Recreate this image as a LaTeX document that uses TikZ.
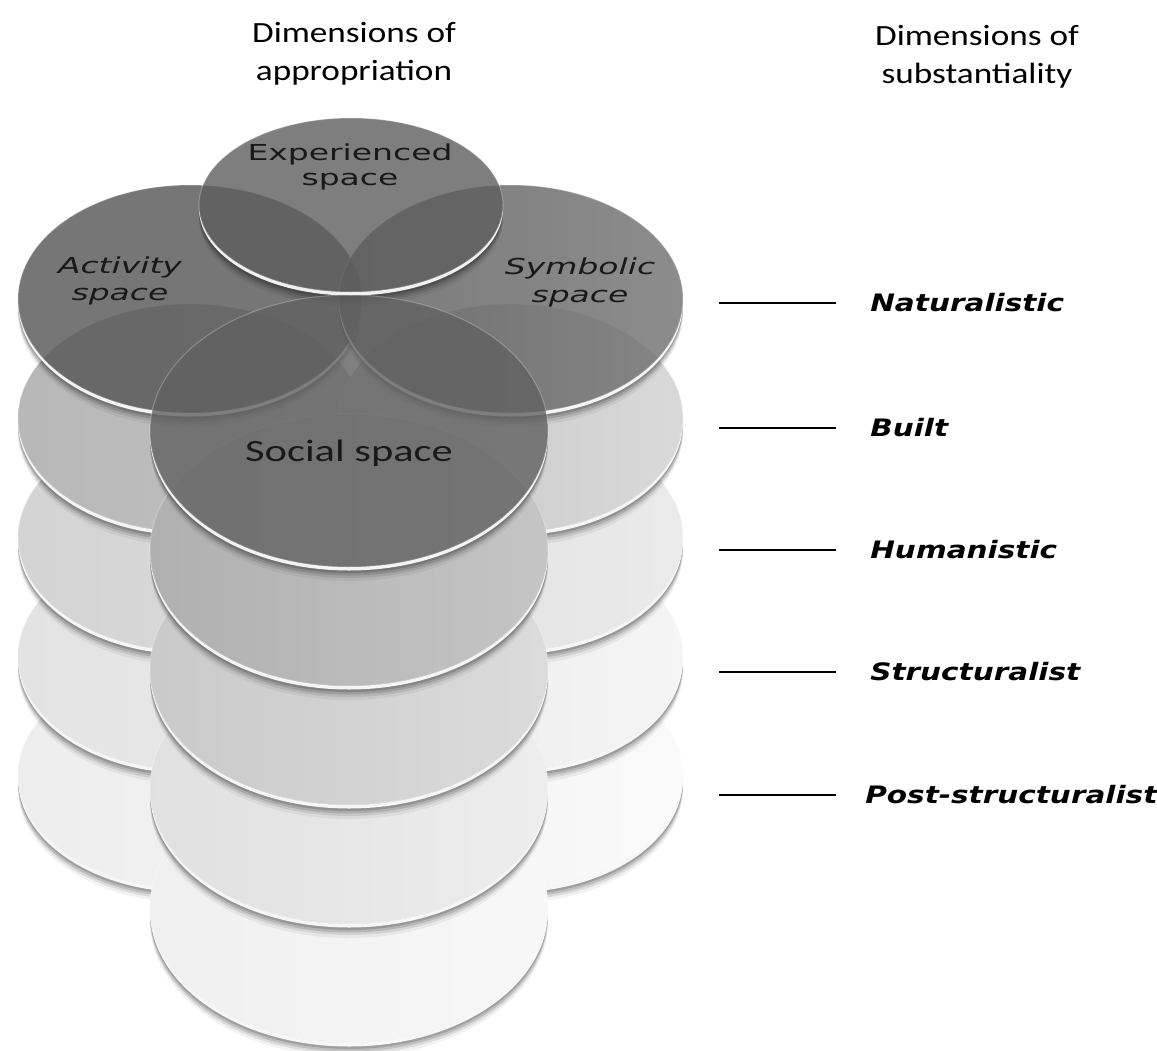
\documentclass[tikz,border=0pt]{standalone}
\usepackage{fontspec}
\usepackage{graphicx}
\newfontfamily\calib{Carlito}
\newfontfamily\dejav{DejaVu Sans}
\newcommand\pdisc[5]{%
  \begin{scope}
    \clip (#1-#3-6,#2+6) rectangle (#1+#3+6,#2+#4+20);
    \fill[black,opacity=0.05,even odd rule] (#1,#2+14) ellipse [x radius=#3,y radius=#4] (#1,#2) ellipse [x radius=#3,y radius=#4];
    \fill[black,opacity=0.09,even odd rule] (#1,#2+11) ellipse [x radius=#3,y radius=#4] (#1,#2) ellipse [x radius=#3,y radius=#4];
    \fill[black,opacity=0.13,even odd rule] (#1,#2+8.5) ellipse [x radius=#3,y radius=#4] (#1,#2) ellipse [x radius=#3,y radius=#4];
    \fill[black,opacity=0.16,even odd rule] (#1,#2+6) ellipse [x radius=#3,y radius=#4] (#1,#2) ellipse [x radius=#3,y radius=#4];
    \fill[white,opacity=0.92,even odd rule] (#1,#2+3.5) ellipse [x radius=#3,y radius=#4] (#1,#2) ellipse [x radius=#3,y radius=#4];
  \end{scope}
  \path[#5] (#1,#2) ellipse [x radius=#3,y radius=#4];
}
\tikzset{
  ttl/.style={font=\calib\fontsize{22}{28.5}\selectfont, align=center, inner sep=0pt, text=black},
  circlbl/.style={font=\dejav\fontsize{16.5}{19}\selectfont, align=center, inner sep=0pt, text=black!90},
  sublbl/.style={font=\dejav\bfseries\itshape\fontsize{18}{22}\selectfont, anchor=west, inner sep=0pt, text=black},
  tick/.style={line width=2pt, black, shorten >=25.5pt},
  rimline/.style={draw=white, draw opacity=0.25, line width=0.8pt}
}
\begin{document}
\begin{tikzpicture}[x=0.75pt,y=-0.75pt]
\fill[white] (0,0) rectangle (1157,1050);
\useasboundingbox (0,0) rectangle (1157,1050);

% ---- layer 5 (Post-structuralist)
\pdisc{190}{775}{172}{114}{left color=black!7, right color=black!4, rimline}
\pdisc{511}{775}{172}{114}{left color=black!5, right color=black!2, rimline}
\pdisc{349}{907}{199}{136}{left color=black!6, right color=black!3, rimline}
% ---- layer 4 (Structuralist)
\pdisc{190}{656}{172}{114}{left color=black!11, right color=black!8, rimline}
\pdisc{511}{656}{172}{114}{left color=black!8, right color=black!4, rimline}
\pdisc{349}{788}{199}{136}{left color=black!12, right color=black!7, rimline}
% ---- layer 3 (Humanistic)
\pdisc{190}{537}{172}{114}{left color=black!17, right color=black!14, rimline}
\pdisc{511}{537}{172}{114}{left color=black!13, right color=black!8, rimline}
\pdisc{349}{669}{199}{136}{left color=black!21, right color=black!14, rimline}
% ---- layer 2 (Built)
\pdisc{190}{418}{172}{114}{left color=black!28, right color=black!24, rimline}
\pdisc{511}{418}{172}{114}{left color=black!22, right color=black!15, rimline}
\pdisc{349}{550}{199}{136}{left color=black!31, right color=black!23, rimline}
% ---- layer 1 (Naturalistic): the four spaces
\pdisc{190}{299}{172}{114}{fill=black!67, fill opacity=0.8, rimline}
\pdisc{511}{299}{172}{114}{left color=black!65, right color=black!56, fill opacity=0.8, rimline}
\pdisc{351}{205}{152}{87}{fill=black!63, fill opacity=0.8, rimline}
\pdisc{349}{431}{199}{136}{fill=black!62, fill opacity=0.8, rimline}

% ---- labels in the discs
\node[circlbl, font=\dejav\fontsize{16.5}{18.75}\selectfont] (exp) at (350,166.5) {\scalebox{1.5}[1]{Experienced}\\\scalebox{1.5}[1]{space}};
\node[circlbl, font=\dejav\itshape\fontsize{16.5}{20.25}\selectfont] (act) at (120,280.5) {\scalebox{1.5}[1]{Activity}\\\scalebox{1.5}[1]{space}};
\node[circlbl, font=\dejav\itshape\fontsize{16.5}{21}\selectfont] (sym) at (580,282) {\scalebox{1.5}[1]{Symbolic}\\\scalebox{1.5}[1]{space}};
\node[circlbl, font=\calib\fontsize{23.25}{28}\selectfont] (soc) at (349,453.5) {\scalebox{1.37}[1]{Social space}};

% ---- titles
\node[ttl] (tapp) at (354,54) {\scalebox{1.2}[1]{Dimensions of}\\\scalebox{1.2}[1]{appropriation}};
\node[ttl] (tsub) at (977,57) {\scalebox{1.2}[1]{Dimensions of}\\\scalebox{1.2}[1]{substantiality}};

% ---- dimensions of substantiality
\node[sublbl] (nat) at (870,303) {\scalebox{1.23}[1]{Naturalistic}};
\node[sublbl] (bui) at (870,428) {\scalebox{1.23}[1]{Built}};
\node[sublbl] (hum) at (870,550) {\scalebox{1.23}[1]{Humanistic}};
\node[sublbl] (str) at (870,672) {\scalebox{1.23}[1]{Structuralist}};
\node[sublbl] (pst) at (865,795) {\scalebox{1.23}[1]{Post-structuralist}};
\coordinate (cnat) at (719,303);
\coordinate (cbui) at (719,428);
\coordinate (chum) at (719,550);
\coordinate (cstr) at (719,672);
\coordinate (cpst) at (719,795);
\draw[tick] (cnat) -- (nat.west);
\draw[tick] (cbui) -- (bui.west);
\draw[tick] (chum) -- (hum.west);
\draw[tick] (cstr) -- (str.west);
\draw[tick, shorten >=21.75pt] (cpst) -- (pst.west);
\end{tikzpicture}
\end{document}
